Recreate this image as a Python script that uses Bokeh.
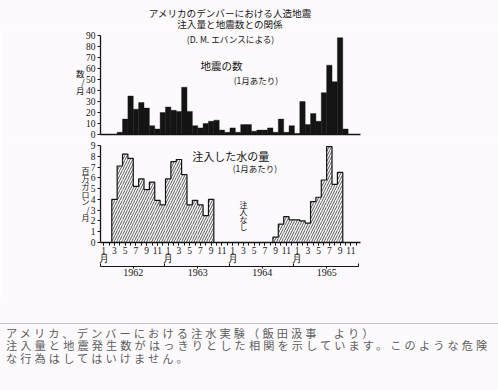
from bokeh.plotting import figure
from bokeh.layouts import column
from bokeh.models import Range1d, FixedTicker, LinearAxis, Div, ColumnDataSource
from bokeh.core.properties import value
from bokeh.embed import file_html
from bokeh.resources import INLINE

# ---- data: monthly values, Jan 1962 .. Dec 1965 ----
month_index = list(range(48))
month_numbers = [i % 12 + 1 for i in month_index]
quakes = [0, 0, 0, 2, 14, 35, 23, 29, 24, 8, 5, 20,
          25, 22, 21, 43, 21, 8, 6, 10, 12, 13, 4, 2,
          6, 2, 9, 9, 3, 4, 4, 6, 2, 14, 2, 8,
          1, 30, 9, 19, 12, 38, 63, 48, 88, 5, 0, 0]
injection = [0, 0, 4.0, 7.1, 8.2, 7.8, 5.2, 5.9, 4.9, 5.6, 3.9, 3.5,
             5.9, 7.5, 7.7, 6.3, 3.5, 3.9, 3.5, 2.5, 4.0, 0, 0, 0,
             0, 0, 0, 0, 0, 0, 0, 0, 0.5, 1.7, 2.4, 2.1,
             2.1, 2.0, 1.8, 3.8, 4.2, 5.8, 8.9, 5.4, 6.5, 0, 0, 0]
years = ["1962", "1963", "1964", "1965"]
year_starts = [0, 12, 24, 36]
quake_ticks = list(range(0, 91, 10))
water_ticks = list(range(0, 10))

title_lines = ["アメリカのデンバーにおける人造地震", "注入量と地震数との関係", "(D. M. エバンスによる)"]
caption_lines = ["アメリカ、デンバーにおける注水実験（飯田汲事　より）",
                 "注入量と地震発生数がはっきりとした相関を示しています。このような危険",
                 "な行為はしてはいけません。"]

BG = "#fcfafc"
INK = "#141414"
JP = "Noto Sans CJK JP"
SERIF = "Liberation Serif"
W = 498

src = ColumnDataSource(dict(m=month_index, q=quakes, w=injection))
xr = Range1d(-0.6, 47.8)


def make_fig(height, yr, top_b, bot_b):
    p = figure(width=W, height=height, x_range=xr, y_range=yr,
               output_backend="svg", toolbar_location=None,
               min_border_left=100, min_border_right=138,
               min_border_top=top_b, min_border_bottom=bot_b,
               background_fill_color=BG, border_fill_color=BG,
               outline_line_color=None)
    p.xgrid.visible = False
    p.ygrid.visible = False
    for ax in (p.xaxis[0], p.yaxis[0]):
        ax.axis_line_color = INK
        ax.axis_line_width = 1.3
        ax.major_tick_line_color = INK
        ax.minor_tick_line_color = INK
        ax.major_label_text_font = SERIF
        ax.major_label_text_color = INK
        ax.major_label_text_font_size = "9.5px"
    p.yaxis.major_tick_in = 0
    p.yaxis.major_tick_out = 3
    p.yaxis.minor_tick_out = 0
    p.yaxis.minor_tick_in = 0
    p.yaxis.major_label_standoff = 2
    return p


def side_label_axis(pos, text, size, lh):
    # an extra left axis carrying the vertical (upright, stacked) unit label
    return LinearAxis(ticker=FixedTicker(ticks=[pos]), major_label_overrides={pos: text},
                      axis_line_color=None, major_tick_line_color=None, minor_tick_line_color=None,
                      major_tick_out=0, major_tick_in=0, major_label_standoff=-2,
                      major_label_text_font=JP, major_label_text_font_size=size,
                      major_label_text_line_height=lh, major_label_text_color=INK)


# ---------------- title ----------------
title_html = (
    f"<div style='position:relative;width:{W}px;height:29px;background:{BG};'>"
    f"<div style=\"position:absolute;left:0;top:7.5px;width:460px;text-align:center;"
    f"font-family:'Liberation Sans','{JP}';"
    f"font-size:9.6px;line-height:11.5px;color:{INK};white-space:nowrap;\">"
    + "<br>".join(title_lines[:2]) + "</div></div>"
)
title_div = Div(text=title_html, width=W, height=29, margin=(0, 0, 0, 0))

# ---------------- top: earthquakes ----------------
top = make_fig(111, Range1d(0, 90), 6, 6)
top.yaxis.ticker = FixedTicker(ticks=quake_ticks)
top.xaxis.ticker = FixedTicker(ticks=[])
top.xaxis.major_label_text_font_size = "0px"
top.xaxis.major_tick_out = 0
top.xaxis.major_tick_in = 0
top.xaxis.major_label_standoff = 0
top.vbar(x="m", top="q", width=1.0, source=src, fill_color=INK, line_color=INK, line_width=0.4)
top.add_layout(side_label_axis(48, "数\n/\n月", "8.5px", 0.7), "left")

top.text(x=[23.6], y=[86.8], text=[title_lines[2]], text_font=value(JP), text_font_size="8.6px",
         text_align="center", text_baseline="middle", text_color=INK)
top.text(x=[18.0], y=[62.7], text=["地震の数"], text_font=value(JP), text_font_size="10.5px",
         text_baseline="middle", text_color=INK)
top.text(x=[24.2], y=[49.1], text=["(1月あたり)"], text_font=value(JP), text_font_size="8.5px",
         text_baseline="middle", text_color=INK)

# ---------------- bottom: injected water ----------------
bot = make_fig(160, Range1d(0, 9), 5, 58)
bot.yaxis.ticker = FixedTicker(ticks=water_ticks)
bot.xaxis.ticker = FixedTicker(ticks=[m for m in month_index if m % 2 == 0], minor_ticks=month_index)
bot.xaxis.major_label_overrides = {m: ("1\n月" if n == 1 else str(n))
                                   for m, n in zip(month_index, month_numbers) if m % 2 == 0}
bot.xaxis.major_tick_out = 3
bot.xaxis.major_tick_in = 0
bot.xaxis.minor_tick_out = 3
bot.xaxis.minor_tick_in = 0
bot.xaxis.major_label_standoff = 0
bot.xaxis.major_label_text_line_height = 0.82
bot.add_layout(side_label_axis(4.5, "百\n万\nガ\nロ\nン\n/\n月", "8px", 0.71), "left")

# year axis: brace-like line with hooks at year boundaries and a point at each year centre
year_centers = [s + 5.5 for s in year_starts]
year_bounds = [s - 0.6 for s in year_starts] + [47.4]
year_ax = LinearAxis(ticker=FixedTicker(ticks=year_centers, minor_ticks=year_bounds),
                     major_label_overrides={c: y for c, y in zip(year_centers, years)},
                     bounds=(-0.6, 47.4), axis_line_color=INK, axis_line_width=1.0,
                     major_tick_line_color=INK, major_tick_out=2, major_tick_in=0,
                     minor_tick_line_color=INK, minor_tick_in=3, minor_tick_out=0,
                     major_label_standoff=0, major_label_text_font=SERIF,
                     major_label_text_font_size="10px", major_label_text_color=INK)
bot.add_layout(year_ax, "below")

bot.vbar(x="m", top="w", width=1.0, source=src, fill_color=BG, line_color=None,
         hatch_pattern="/", hatch_color="#2a2a2a", hatch_scale=5, hatch_weight=0.8)
bot.step(x="m", y="w", source=src, mode="center", line_color=INK, line_width=1.2)

bot.text(x=[16.5], y=[8.0], text=["注入した水の量"], text_font=value(JP), text_font_size="11px",
         text_baseline="middle", text_color=INK)
bot.text(x=[24.0], y=[6.9], text=["(1月あたり)"], text_font=value(JP), text_font_size="8.5px",
         text_baseline="middle", text_color=INK)
bot.text(x=[26.0], y=[2.5], text=["注\n入\nな\nし"], text_font=value(JP), text_font_size="8px",
         text_align="center", text_baseline="middle", text_line_height=0.66, text_color=INK)

# ---------------- caption ----------------
cap_html = (
    f"<div style='position:relative;width:{W}px;height:90px;background:{BG};'>"
    f"<div style='position:absolute;left:0;top:23px;width:{W}px;height:0;border-top:1px solid #c4c4c4;'></div>"
    f"<div style=\"position:absolute;left:6px;top:27.7px;font-family:'Liberation Sans','{JP}';"
    "font-size:11.2px;letter-spacing:3.1px;line-height:12.6px;color:#5e5e5e;white-space:nowrap;\">"
    + "<br>".join(caption_lines) + "</div></div>"
)
cap = Div(text=cap_html, width=W, height=90, margin=(0, 0, 0, 0))

layout = column(title_div, top, bot, cap, spacing=0)
open("out.html", "w").write(file_html(layout, INLINE))
